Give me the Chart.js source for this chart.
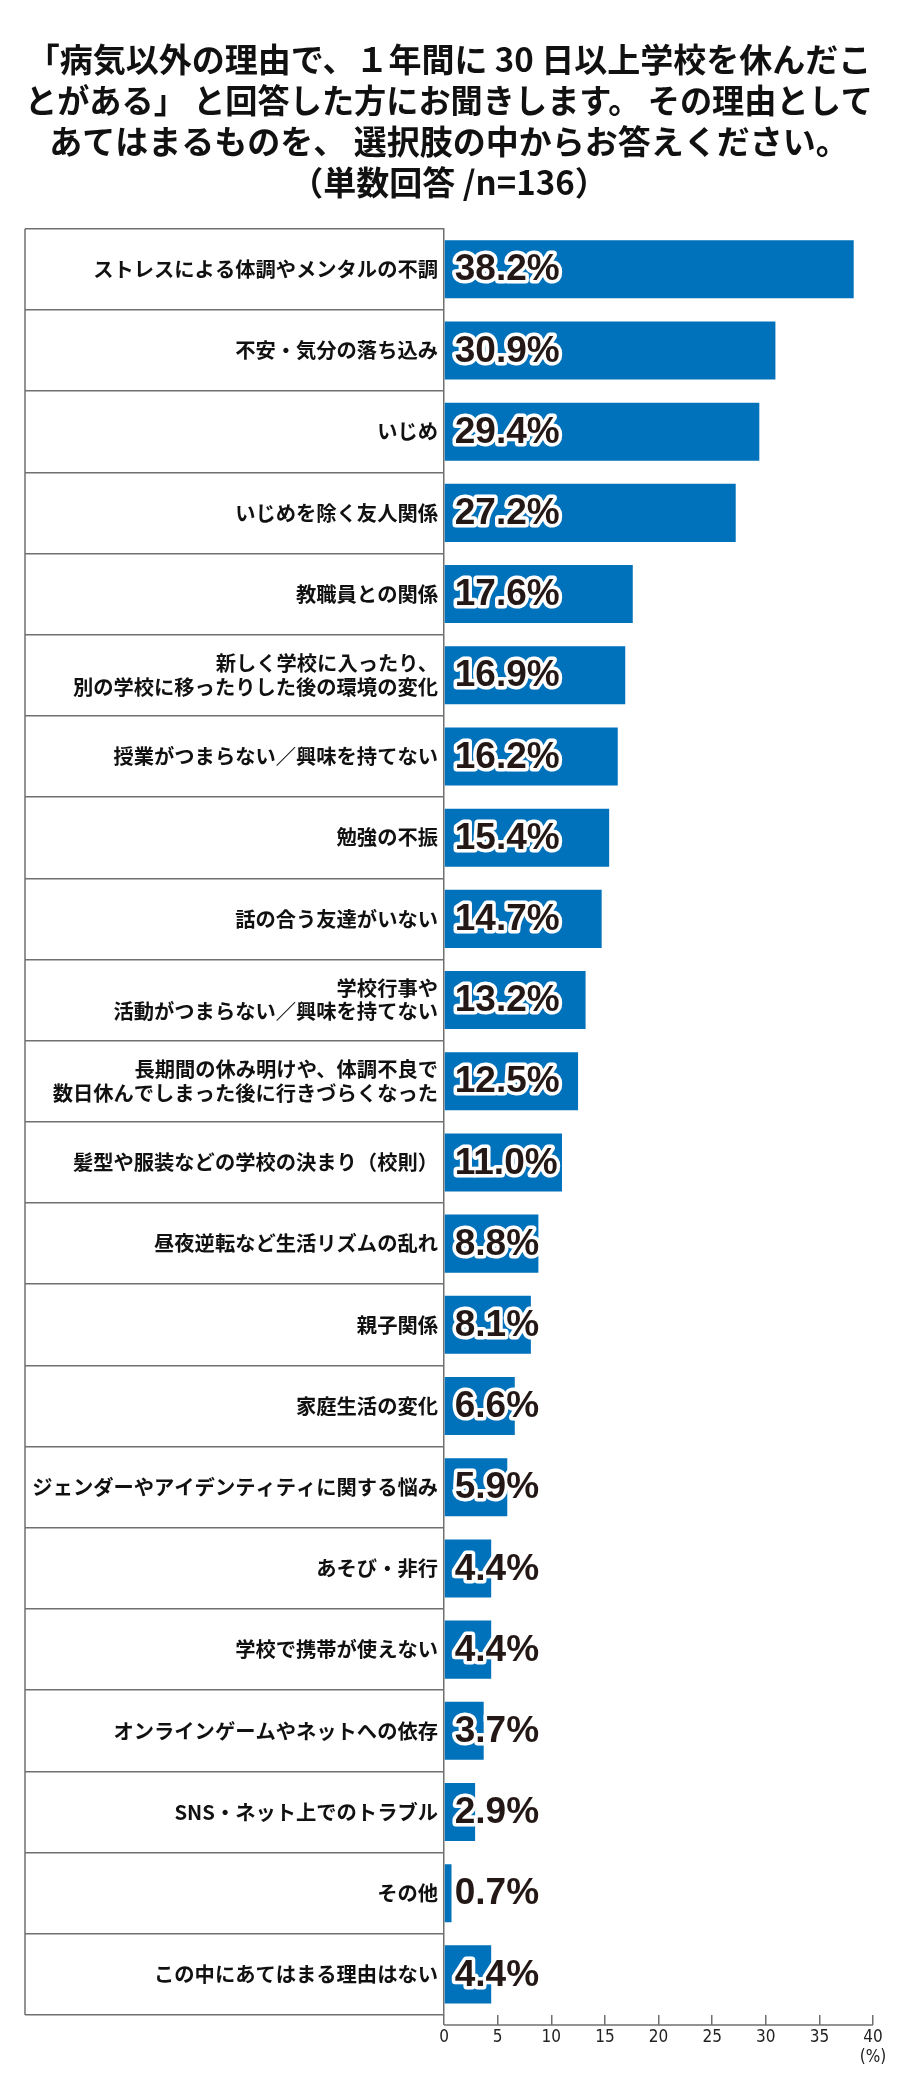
<!DOCTYPE html>
<html lang="ja">
<head>
<meta charset="utf-8">
<title>病気以外の理由で学校を休んだ理由</title>
<script src="https://cdn.jsdelivr.net/npm/chart.js@4.4.1/dist/chart.umd.min.js"></script>
<style>
  html, body { margin: 0; padding: 0; background: #fff; }
  #reasons_chart { display: block; }
</style>
</head>
<body>
<canvas id="reasons_chart" width="900" height="2090"></canvas>
<script>
// title lines
var titleLines = [
    '「病気以外の理由で、１年間に 30 日以上学校を休んだこ',
    'とがある」 と回答した方にお聞きします。 その理由として',
    'あてはまるものを、 選択肢の中からお答えください。',
    '（単数回答 /n=136）'
];

// categories (top to bottom)
var reasons = [
    'ストレスによる体調やメンタルの不調',
    '不安・気分の落ち込み',
    'いじめ',
    'いじめを除く友人関係',
    '教職員との関係',
    ['新しく学校に入ったり、', '別の学校に移ったりした後の環境の変化'],
    '授業がつまらない／興味を持てない',
    '勉強の不振',
    '話の合う友達がいない',
    ['学校行事や', '活動がつまらない／興味を持てない'],
    ['長期間の休み明けや、体調不良で', '数日休んでしまった後に行きづらくなった'],
    '髪型や服装などの学校の決まり（校則）',
    '昼夜逆転など生活リズムの乱れ',
    '親子関係',
    '家庭生活の変化',
    'ジェンダーやアイデンティティに関する悩み',
    'あそび・非行',
    '学校で携帯が使えない',
    'オンラインゲームやネットへの依存',
    'SNS・ネット上でのトラブル',
    'その他',
    'この中にあてはまる理由はない'
];

// share of respondents (%)
var percents = [38.2, 30.9, 29.4, 27.2, 17.6, 16.9, 16.2, 15.4, 14.7, 13.2, 12.5,
                11.0, 8.8, 8.1, 6.6, 5.9, 4.4, 4.4, 3.7, 2.9, 0.7, 4.4];

// x axis
var axisMax = 40;
var axisStep = 5;
var axisUnit = '(%)';

var lineGrey = '#707070';

// value labels drawn at the start of each bar, dark text with white outline
var barValueLabels = {
    id: 'barValueLabels',
    afterDatasetsDraw: function(chart) {
        var ctx = chart.ctx;
        var meta = chart.getDatasetMeta(0);
        ctx.save();
        ctx.font = 'bold 37px "Liberation Sans", Arial, sans-serif';
        ctx.textAlign = 'left';
        ctx.textBaseline = 'middle';
        ctx.lineJoin = 'round';
        meta.data.forEach(function(bar, i) {
            var txt = percents[i].toFixed(1) + '%';
            var x = bar.base + 10;
            var y = bar.y + 1;
            ctx.strokeStyle = '#ffffff';
            ctx.lineWidth = 7;
            ctx.strokeText(txt, x, y);
            ctx.fillStyle = '#231815';
            ctx.fillText(txt, x, y);
        });
        ctx.restore();
    }
};

// left edge of the label box and the x baseline under the ticks
var frameLines = {
    id: 'frameLines',
    afterDraw: function(chart) {
        var ctx = chart.ctx;
        var area = chart.chartArea;
        var xs = chart.scales.x;
        var ys = chart.scales.y;
        var baseY = area.bottom + xs.options.grid.tickLength;
        ctx.save();
        ctx.strokeStyle = lineGrey;
        ctx.lineWidth = 1.5;
        ctx.beginPath();
        ctx.moveTo(ys.left, area.top);
        ctx.lineTo(ys.left, area.bottom);
        ctx.moveTo(xs.getPixelForValue(0), baseY);
        ctx.lineTo(xs.getPixelForValue(axisMax), baseY);
        ctx.stroke();
        ctx.restore();
    }
};

var config_reasons = {
    type: 'bar',
    data: {
        labels: reasons,
        datasets: [{
            data: percents,
            backgroundColor: '#0071bb',
            borderWidth: 0,
            barPercentage: 0.715,
            categoryPercentage: 1.0
        }]
    },
    options: {
        indexAxis: 'y',
        responsive: false,
        devicePixelRatio: 1,
        animation: false,
        layout: { padding: { top: 19, left: 25, right: 27, bottom: 0 } },
        plugins: {
            legend: { display: false },
            tooltip: { enabled: false },
            title: {
                display: true,
                text: titleLines,
                color: '#111111',
                font: { family: '"Noto Sans CJK JP", sans-serif', size: 33, weight: 'bold', lineHeight: 1.24 },
                padding: { top: 20, bottom: 26 }
            }
        },
        scales: {
            x: {
                min: 0,
                max: axisMax,
                border: { display: false },
                grid: {
                    drawOnChartArea: false,
                    drawTicks: true,
                    tickLength: 10,
                    color: lineGrey,
                    lineWidth: 1.5
                },
                ticks: {
                    stepSize: axisStep,
                    padding: 3,
                    color: '#222222',
                    font: { family: '"Liberation Sans Narrow", "DejaVu Sans Condensed", sans-serif', size: 17, lineHeight: 1.15 },
                    callback: function(value) {
                        return value === axisMax ? [String(value), axisUnit] : String(value);
                    }
                },
                afterFit: function(scale) { scale.height = 75; }
            },
            y: {
                offset: true,
                border: { display: true, color: lineGrey, width: 1.5 },
                grid: {
                    offset: true,
                    drawOnChartArea: false,
                    drawTicks: true,
                    tickLength: 419,
                    color: lineGrey,
                    lineWidth: 1.5
                },
                ticks: {
                    padding: -413,
                    color: '#111111',
                    font: { family: '"Noto Sans CJK JP", sans-serif', size: 20.3, weight: 'bold', lineHeight: 1.15 }
                },
                afterFit: function(scale) { scale.width = 419; }
            }
        }
    },
    plugins: [barValueLabels, frameLines]
};

var reasons_chart = new Chart(
    document.getElementById('reasons_chart'),
    config_reasons
);
</script>
</body>
</html>
